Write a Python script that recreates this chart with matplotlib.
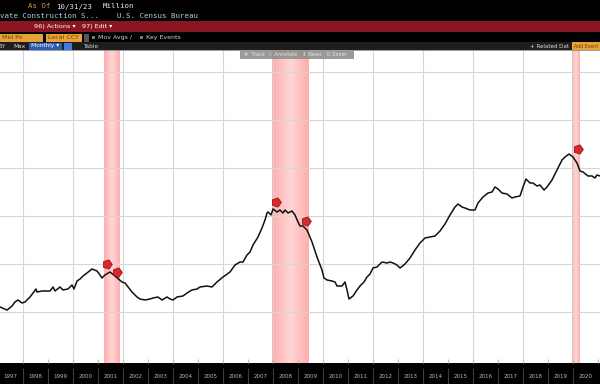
import matplotlib
matplotlib.use("Agg")
import matplotlib.pyplot as plt
import numpy as np
from matplotlib.patches import Rectangle
from matplotlib.colors import LinearSegmentedColormap
import matplotlib.transforms as mtransforms

# ---------------- data (decimal year, millions) ----------------
dates = [
    1997.08, 1997.36, 1997.56, 1997.68, 1997.80, 1997.96,
    1998.08, 1998.28, 1998.40, 1998.52, 1998.56, 1998.76,
    1999.08, 1999.20, 1999.28, 1999.48, 1999.60, 1999.80, 1999.96,
    2000.04, 2000.16, 2000.28, 2000.40, 2000.56, 2000.76, 2000.96,
    2001.08, 2001.16, 2001.28, 2001.48, 2001.68, 2001.96,
    2002.08, 2002.36, 2002.56, 2002.68, 2002.88,
    2003.08, 2003.20, 2003.40, 2003.56, 2003.76, 2003.88,
    2004.00, 2004.16, 2004.40, 2004.56, 2004.76, 2004.96,
    2005.08, 2005.36, 2005.56, 2005.76,
    2006.00, 2006.28, 2006.48, 2006.68, 2006.80, 2006.96,
    2007.08, 2007.20, 2007.40, 2007.56, 2007.68, 2007.76, 2007.80, 2007.92,
    2008.00, 2008.16, 2008.28, 2008.40, 2008.48, 2008.60, 2008.76, 2008.88,
    2009.00, 2009.08, 2009.20, 2009.36, 2009.56, 2009.76, 2009.96,
    2010.04, 2010.16, 2010.36, 2010.48, 2010.56, 2010.76, 2010.88, 2010.96,
    2011.04, 2011.20, 2011.36, 2011.48, 2011.64, 2011.76, 2011.88,
    2012.00, 2012.16, 2012.36, 2012.56, 2012.68, 2012.80, 2012.96,
    2013.08, 2013.28, 2013.48, 2013.68, 2013.88,
    2014.08, 2014.28, 2014.48, 2014.68, 2014.88,
    2015.08, 2015.28, 2015.40, 2015.56, 2015.68, 2015.88,
    2016.08, 2016.20, 2016.40, 2016.60, 2016.76, 2016.88,
    2017.00, 2017.16, 2017.36, 2017.56, 2017.68, 2017.88,
    2018.00, 2018.12, 2018.28, 2018.40, 2018.56, 2018.68, 2018.84, 2018.96,
    2019.16, 2019.36, 2019.56, 2019.68, 2019.84,
    2020.00, 2020.16, 2020.28, 2020.40, 2020.60, 2020.76, 2020.88, 2020.96,
    2021.08,
]
values = [
    421000, 408000, 425000, 441700, 450000, 437500,
    441700, 462500, 479200, 495800, 483300, 487500,
    487500, 504200, 487500, 504200, 491700, 495800, 512500,
    495800, 529200, 537500, 550000, 562500, 579200, 570800,
    554200, 541700, 554200, 566700, 550000, 525000,
    520800, 483300, 462500, 454200, 450000,
    454200, 458300, 462500, 450000, 462500, 454200,
    450000, 462500, 466700, 479200, 491700, 495800,
    504200, 508300, 504200, 525000,
    545800, 566700, 595800, 608300, 608300, 637500,
    650000, 679200, 712500, 750000, 783300, 812500, 816700, 804200,
    829200, 816700, 825000, 812500, 825000, 812500, 820800, 804200,
    775000, 758300, 758300, 741700, 691700, 629200, 575000,
    541700, 533300, 529200, 525000, 508300, 508300, 525000, 491700,
    454200, 466700, 491700, 508300, 525000, 545800, 558300,
    583300, 587500, 608300, 604200, 608300, 604200, 595800,
    583300, 600000, 625000, 658300, 687500,
    708300, 712500, 716700, 737500, 766700,
    804200, 837500, 850000, 837500, 833300, 825000,
    825000, 854200, 879200, 895800, 900000, 920800,
    912500, 895800, 891700, 875000, 879200, 883300,
    920800, 954200, 937500, 937500, 925000, 929200, 908300, 920800,
    950000, 991700, 1033300, 1045800, 1058300,
    1045800, 1020800, 987500, 983300, 966700, 966700, 958300, 970800,
    966700,
]
recession_start = [2001.22, 2007.96, 2019.96]
recession_end = [2001.86, 2009.44, 2020.26]
event_dates = [2001.36, 2001.76, 2008.12, 2009.32, 2020.20]
event_values = [600000, 566700, 858300, 779200, 1079200]
year_labels = list(range(1997, 2021))
grid_years = list(range(1998, 2021, 2))
grid_values = [400000, 600000, 800000, 1000000, 1200000, 1400000]

# ---------------- figure ----------------
W, H = 600, 384
fig = plt.figure(figsize=(6, 3.84), dpi=100, facecolor="black")
top_px, bot_px = 50, 363
ax = fig.add_axes([0, 1 - bot_px / H, 1, (bot_px - top_px) / H])
ax.set_facecolor("white")
x0, x1 = 1997.08, 2021.08
y0, y1 = 187500, 1491667

# recession bands (gradient)
cmap = LinearSegmentedColormap.from_list("band", ["#ffd6d6", "#ffaeae"])
grad = np.abs(np.linspace(-1, 1, 64))[None, :]
for s, e in zip(recession_start, recession_end):
    ax.imshow(grad, extent=[s, e, y0, y1], aspect="auto", cmap=cmap,
              vmin=0, vmax=1, zorder=0, interpolation="bilinear")

for g in grid_values:
    ax.axhline(g, color="#d6d6d6", lw=0.8, zorder=0.5)
for gy in grid_years:
    ax.axvline(gy, color="#d6d6d6", lw=0.8, zorder=0.5)

ax.plot(dates, values, color="#111111", lw=1.1, zorder=3)
ax.plot(event_dates, event_values, ls="none", marker=(5, 0, -90), ms=7,
        mfc="#d42a2a", mec="#a01515", mew=0.6, zorder=4)

ax.set_xlim(x0, x1)
ax.set_ylim(y0, y1)
ax.set_yticks([])
ax.set_xticks(list(range(1998, 2022)))
ax.tick_params(axis="x", direction="in", length=3, color="#bdbdbd",
               labelbottom=False, width=0.8)
for s in ax.spines.values():
    s.set_visible(False)
ax.spines["top"].set_visible(True)
ax.spines["top"].set_color("#8a8a8a")
ax.spines["top"].set_linewidth(1.2)

trans = mtransforms.blended_transform_factory(ax.transData, ax.transAxes)
for y in year_labels:
    ax.text(y + 0.5, -0.042, str(y), transform=trans, color="#b8b8b8",
            fontsize=4, ha="center", va="center", clip_on=False)
ax.vlines(list(range(1998, 2021)), -0.067, -0.016, transform=trans,
          colors="#3c3c3c", lw=0.8, clip_on=False)

# ---------------- terminal chrome ----------------
hax = fig.add_axes([0, 0, 1, 1], zorder=5)
hax.set_xlim(0, W)
hax.set_ylim(H, 0)
hax.axis("off")
mono = "DejaVu Sans Mono"

hax.text(28, 6.5, "As Of", color="#e0973a", family=mono, fontsize=5.3, va="center")
hax.text(56, 6.5, "10/31/23", color="#e8e8e8", family=mono, fontsize=5.3, va="center")
hax.text(103, 6.5, "Million", color="#e8e8e8", family=mono, fontsize=5.3, va="center")
hax.text(0, 16, "vate Construction S...    U.S. Census Bureau", color="#a9d3e3",
         family=mono, fontsize=5.3, va="center")

hax.add_patch(Rectangle((0, 21), 600, 11, color="#8a1621", lw=0))
hax.text(34, 26.5, "96) Actions \u25be", color="white", fontsize=4.6, va="center")
hax.text(82, 26.5, "97) Edit \u25be", color="white", fontsize=4.6, va="center")

orange = "#e8a23a"
hax.add_patch(Rectangle((0, 34), 43, 7.5, color=orange, lw=0))
hax.text(2, 37.8, "Mid Px", color="#6b3d00", fontsize=4.5, va="center")
hax.add_patch(Rectangle((46, 34), 36, 7.5, color=orange, lw=0))
hax.text(48, 37.8, "Local CCY", color="#6b3d00", fontsize=4.5, va="center")
hax.add_patch(Rectangle((84, 34), 4.5, 7.5, color="#555555", lw=0))
hax.add_patch(Rectangle((92, 36), 3, 3, color="#777777", lw=0))
hax.text(98, 37.8, "Mov Avgs /", color="#cfcfcf", fontsize=4.5, va="center")
hax.add_patch(Rectangle((140, 36), 3, 3, color="#777777", lw=0))
hax.text(146, 37.8, "Key Events", color="#cfcfcf", fontsize=4.5, va="center")

hax.add_patch(Rectangle((0, 42), 600, 8, color="#1e1e1e", lw=0))
hax.text(-1, 46, "5Y", color="#dddddd", fontsize=4.2, va="center")
hax.text(13, 46, "Max", color="#dddddd", fontsize=4.2, va="center")
hax.add_patch(Rectangle((29, 42.5), 33, 7, color="#2a5db0", lw=0))
hax.text(31, 46, "Monthly \u25be", color="white", fontsize=4.2, va="center")
hax.add_patch(Rectangle((64, 42.5), 8, 7, color="#3f7de0", lw=0))
hax.text(83, 46, "Table", color="#cccccc", fontsize=4.2, va="center")
hax.text(530, 46, "+ Related Dat", color="#dddddd", fontsize=4.0, va="center")
hax.add_patch(Rectangle((572, 42), 28, 8, color=orange, lw=0))
hax.text(573.5, 46, "Add Event", color="#6b3d00", fontsize=3.4, va="center")

hax.add_patch(Rectangle((240, 50.5), 114, 8, color="#8f8f8f", alpha=0.9, lw=0))
hax.text(244, 54.5, "#  Track   /  Annotate   \u2195 News   Q Zoom", color="#e6e6e6",
         fontsize=3.6, va="center")

fig.savefig("out.png", dpi=100, facecolor="black")
